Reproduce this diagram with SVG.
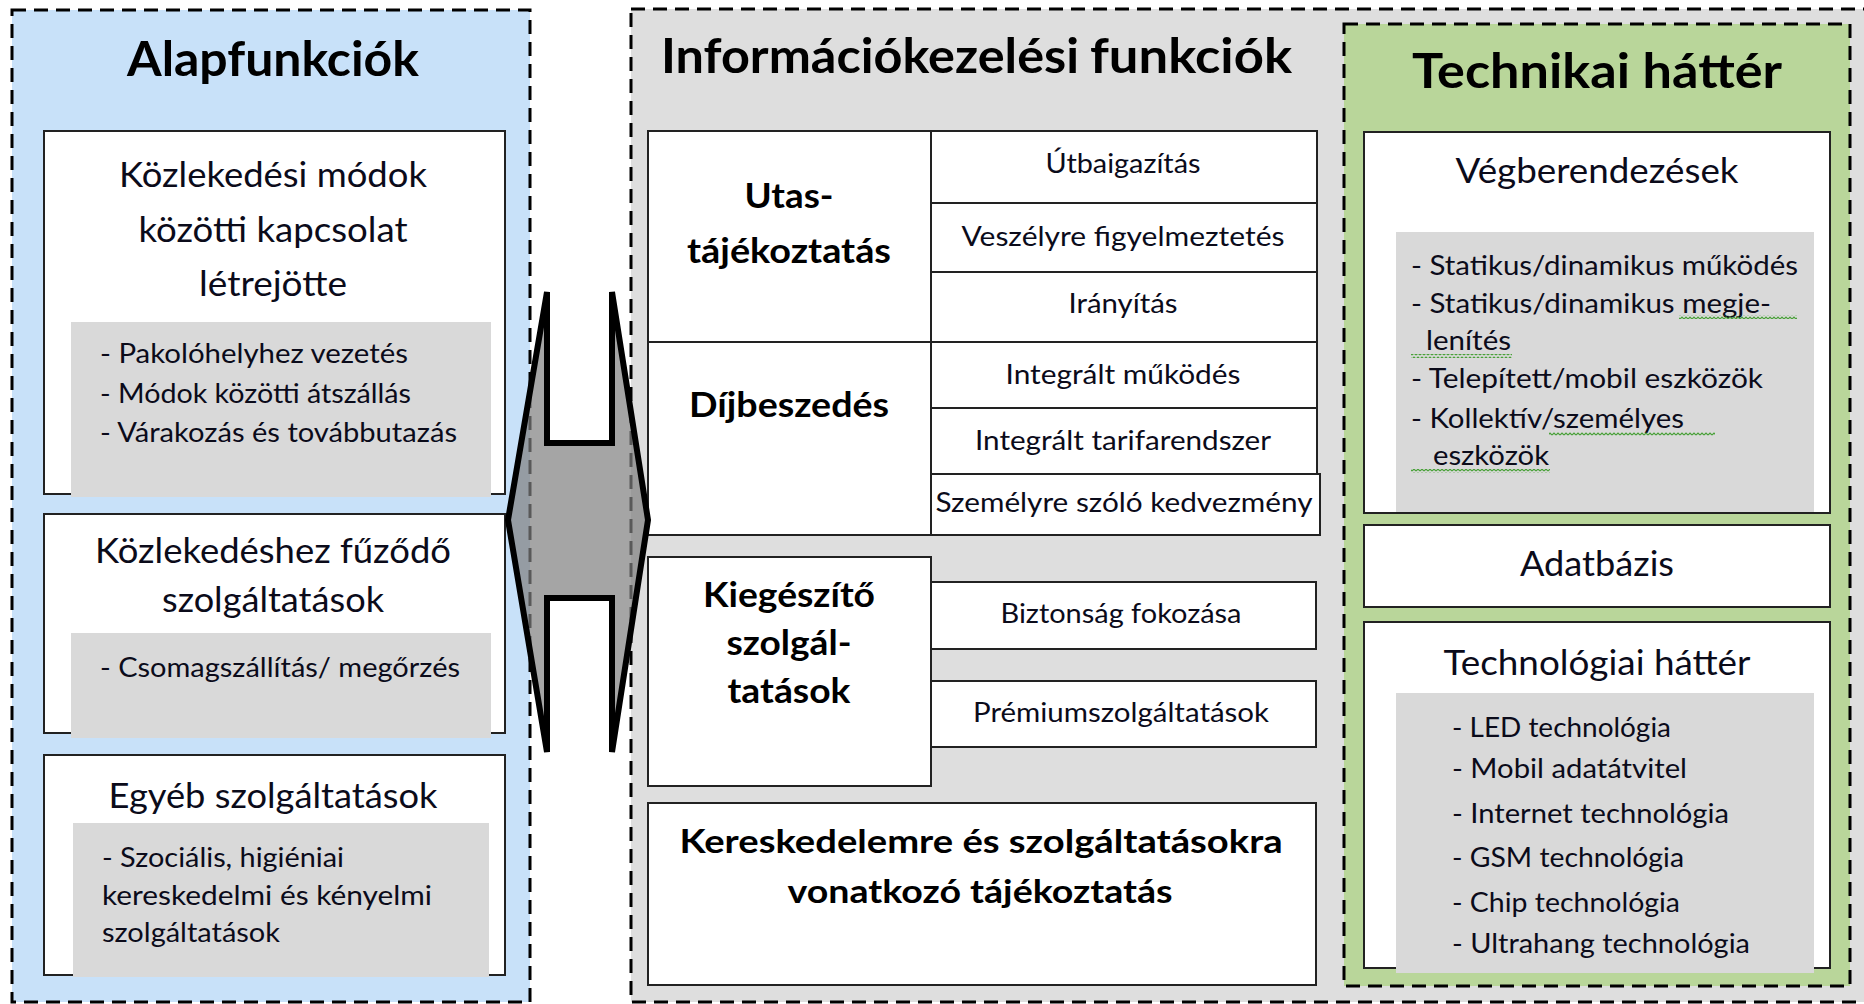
<svg xmlns="http://www.w3.org/2000/svg" width="1864" height="1004" viewBox="0 0 1864 1004">
<style>
text { font-family: Lato, "Open Sans", "Liberation Sans", sans-serif; fill: #0b0b1a; }
.t { font-weight: bold; font-size: 47px; fill: #000; }
.h { font-size: 34px; }
.b { font-size: 27px; }
.c { font-size: 26px; }
.l { font-weight: bold; font-size: 34px; fill: #000; }
.k { font-weight: bold; font-size: 33px; fill: #000; }
.m { text-anchor: middle; }
.box { fill: #fff; stroke: #222; stroke-width: 2; }
.gray { fill: #D9D9D9; }
.dash { stroke: #000; stroke-width: 3; stroke-dasharray: 14 8; }
.arrow { fill: #7F7F7F; fill-opacity: 0.7; stroke: #000; stroke-width: 6; }
</style>
<defs>
<pattern id="wavy" patternUnits="userSpaceOnUse" x="0" y="0" width="4" height="4">
<path d="M0 3 L2 1 L4 3" fill="none" stroke="#46A035" stroke-width="1.2"/>
</pattern>
</defs>
<rect width="1864" height="1004" fill="#fff"/>

<g id="panel-alap">
<rect x="12" y="10" width="518" height="992" fill="#C8E1F9" class="dash"/>
<text class="t m" x="273" y="76" textLength="292" lengthAdjust="spacingAndGlyphs">Alapfunkciók</text>
</g>
<g id="panel-info">
<rect x="631" y="9" width="1260" height="993" fill="#DEDEDE" class="dash"/>
<text class="t" x="661" y="73" textLength="418" lengthAdjust="spacingAndGlyphs">Információkezelési</text>
<text class="t" x="1090" y="73" textLength="202" lengthAdjust="spacingAndGlyphs">funkciók</text>
</g>
<g id="panel-tech">
<rect x="1344" y="24" width="506" height="962" fill="#B9D69A" class="dash"/>
<text class="t m" x="1597" y="88" textLength="370" lengthAdjust="spacingAndGlyphs">Technikai háttér</text>
</g>

<g id="node-kozlekedesi-modok">
<rect class="box" x="44" y="131" width="461" height="363"/>
<text class="h m" x="273" y="187" textLength="308" lengthAdjust="spacingAndGlyphs">Közlekedési módok</text>
<text class="h m" x="273" y="242" textLength="269" lengthAdjust="spacingAndGlyphs">közötti kapcsolat</text>
<text class="h m" x="273" y="296" textLength="148" lengthAdjust="spacingAndGlyphs">létrejötte</text>
<rect class="gray" x="71" y="322" width="420" height="175"/>
<text class="b" x="100" y="363" textLength="308" lengthAdjust="spacingAndGlyphs">- Pakolóhelyhez vezetés</text>
<text class="b" x="100" y="403" textLength="311" lengthAdjust="spacingAndGlyphs">- Módok közötti átszállás</text>
<text class="b" x="100" y="442" textLength="357" lengthAdjust="spacingAndGlyphs">- Várakozás és továbbutazás</text>
</g>
<g id="node-kozlekedeshez">
<rect class="box" x="44" y="514" width="461" height="219"/>
<text class="h m" x="273" y="563" textLength="356" lengthAdjust="spacingAndGlyphs">Közlekedéshez fűződő</text>
<text class="h m" x="273" y="612" textLength="222" lengthAdjust="spacingAndGlyphs">szolgáltatások</text>
<rect class="gray" x="71" y="633" width="420" height="105"/>
<text class="b" x="100" y="677" textLength="360" lengthAdjust="spacingAndGlyphs">- Csomagszállítás/ megőrzés</text>
</g>
<g id="node-egyeb">
<rect class="box" x="44" y="755" width="461" height="220"/>
<text class="h m" x="273" y="808" textLength="329" lengthAdjust="spacingAndGlyphs">Egyéb szolgáltatások</text>
<rect class="gray" x="73" y="823" width="416" height="154"/>
<text class="b" x="102" y="867" textLength="242" lengthAdjust="spacingAndGlyphs">- Szociális, higiéniai</text>
<text class="b" x="102" y="905" textLength="330" lengthAdjust="spacingAndGlyphs">kereskedelmi és kényelmi</text>
<text class="b" x="102" y="942" textLength="178" lengthAdjust="spacingAndGlyphs">szolgáltatások</text>
</g>

<g id="node-utastajekoztatas">
<rect class="box" x="648" y="131" width="283" height="211"/>
<text class="l m" x="789" y="208" textLength="89" lengthAdjust="spacingAndGlyphs">Utas-</text>
<text class="l m" x="789" y="263" textLength="204" lengthAdjust="spacingAndGlyphs">tájékoztatás</text>
<rect class="box" x="931" y="131" width="386" height="72"/>
<text class="c m" x="1123" y="173" textLength="155" lengthAdjust="spacingAndGlyphs">Útbaigazítás</text>
<rect class="box" x="931" y="203" width="386" height="69"/>
<text class="c m" x="1123" y="246" textLength="323" lengthAdjust="spacingAndGlyphs">Veszélyre figyelmeztetés</text>
<rect class="box" x="931" y="272" width="386" height="70"/>
<text class="c m" x="1123" y="313" textLength="109" lengthAdjust="spacingAndGlyphs">Irányítás</text>
</g>
<g id="node-dijbeszedes">
<rect class="box" x="648" y="342" width="283" height="193"/>
<text class="l m" x="789" y="417" textLength="200" lengthAdjust="spacingAndGlyphs">Díjbeszedés</text>
<rect class="box" x="931" y="342" width="386" height="66"/>
<text class="c m" x="1123" y="384" textLength="235" lengthAdjust="spacingAndGlyphs">Integrált működés</text>
<rect class="box" x="931" y="408" width="386" height="66"/>
<text class="c m" x="1123" y="450" textLength="296" lengthAdjust="spacingAndGlyphs">Integrált tarifarendszer</text>
<rect class="box" x="931" y="474" width="389" height="61"/>
<text class="c m" x="1124" y="512" textLength="377" lengthAdjust="spacingAndGlyphs">Személyre szóló kedvezmény</text>
</g>
<g id="node-kiegeszito">
<rect class="box" x="648" y="557" width="283" height="229"/>
<text class="l m" x="789" y="607" textLength="172" lengthAdjust="spacingAndGlyphs">Kiegészítő</text>
<text class="l m" x="789" y="655" textLength="125" lengthAdjust="spacingAndGlyphs">szolgál-</text>
<text class="l m" x="789" y="703" textLength="123" lengthAdjust="spacingAndGlyphs">tatások</text>
<rect class="box" x="931" y="582" width="385" height="67"/>
<text class="c m" x="1121" y="623" textLength="241" lengthAdjust="spacingAndGlyphs">Biztonság fokozása</text>
<rect class="box" x="931" y="681" width="385" height="66"/>
<text class="c m" x="1121" y="722" textLength="296" lengthAdjust="spacingAndGlyphs">Prémiumszolgáltatások</text>
</g>
<g id="node-kereskedelem">
<rect class="box" x="648" y="803" width="668" height="182"/>
<text class="k m" x="981" y="853" textLength="603" lengthAdjust="spacingAndGlyphs">Kereskedelemre és szolgáltatásokra</text>
<text class="k m" x="980" y="903" textLength="385" lengthAdjust="spacingAndGlyphs">vonatkozó tájékoztatás</text>
</g>

<g id="node-vegberendezesek">
<rect class="box" x="1364" y="132" width="466" height="381"/>
<text class="h m" x="1597" y="183" textLength="283" lengthAdjust="spacingAndGlyphs">Végberendezések</text>
<rect class="gray" x="1396" y="232" width="418" height="280"/>
<text class="b" x="1411" y="275" textLength="387" lengthAdjust="spacingAndGlyphs">- Statikus/dinamikus működés</text>
<text class="b" x="1411" y="313" textLength="360" lengthAdjust="spacingAndGlyphs">- Statikus/dinamikus megje-</text>
<text class="b" x="1426" y="350" textLength="85" lengthAdjust="spacingAndGlyphs">lenítés</text>
<text class="b" x="1411" y="388" textLength="352" lengthAdjust="spacingAndGlyphs">- Telepített/mobil eszközök</text>
<text class="b" x="1411" y="428" textLength="273" lengthAdjust="spacingAndGlyphs">- Kollektív/személyes</text>
<text class="b" x="1433" y="465" textLength="116" lengthAdjust="spacingAndGlyphs">eszközök</text>
<rect x="1679" y="315" width="118" height="4" fill="url(#wavy)"/>
<rect x="1411" y="354" width="101" height="4" fill="url(#wavy)"/>
<rect x="1549" y="432" width="166" height="4" fill="url(#wavy)"/>
<rect x="1411" y="469" width="139" height="4" fill="url(#wavy)"/>
</g>
<g id="node-adatbazis">
<rect class="box" x="1364" y="525" width="466" height="82"/>
<text class="h m" x="1597" y="576" textLength="154" lengthAdjust="spacingAndGlyphs">Adatbázis</text>
</g>
<g id="node-technologiai">
<rect class="box" x="1364" y="622" width="466" height="346"/>
<text class="h m" x="1597" y="675" textLength="307" lengthAdjust="spacingAndGlyphs">Technológiai háttér</text>
<rect class="gray" x="1396" y="693" width="418" height="280"/>
<text class="b" x="1452" y="737" textLength="219" lengthAdjust="spacingAndGlyphs">- LED technológia</text>
<text class="b" x="1452" y="778" textLength="235" lengthAdjust="spacingAndGlyphs">- Mobil adatátvitel</text>
<text class="b" x="1452" y="823" textLength="277" lengthAdjust="spacingAndGlyphs">- Internet technológia</text>
<text class="b" x="1452" y="867" textLength="232" lengthAdjust="spacingAndGlyphs">- GSM technológia</text>
<text class="b" x="1452" y="912" textLength="228" lengthAdjust="spacingAndGlyphs">- Chip technológia</text>
<text class="b" x="1452" y="953" textLength="298" lengthAdjust="spacingAndGlyphs">- Ultrahang technológia</text>
</g>

<g id="connectors">
<path class="arrow" d="M508 520 L547 292 L547 443 L612 443 L612 292 L648 520 L612 752 L612 598 L547 598 L547 752 Z"/>
</g>
</svg>
